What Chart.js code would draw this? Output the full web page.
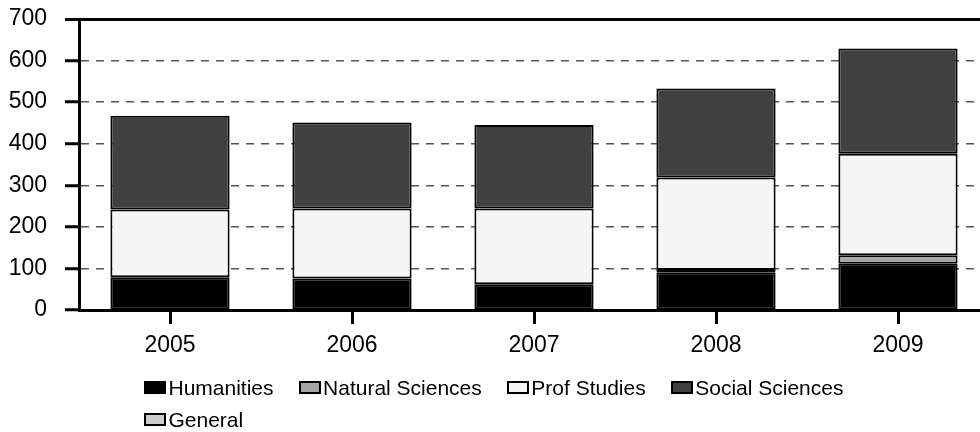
<!DOCTYPE html>
<html>
<head>
<meta charset="utf-8">
<script src="https://cdn.jsdelivr.net/npm/chart.js"></script>
<style>
  body { margin: 0; background: #fff; overflow: hidden; }
  #wrap { position: absolute; left: 0; top: 0; width: 1000px; height: 432px; }
  #legend {
    position: absolute; left: 144px; top: 372px; width: 770px;
    display: flex; flex-wrap: wrap;
    font-family: "Liberation Sans", Arial, sans-serif; font-size: 21px; color: #000;
  }
  .item { display: flex; align-items: center; height: 31.5px; line-height: 31.5px; margin-right: 25px; white-space: nowrap; }
  .box { width: 22px; height: 13px; box-sizing: border-box; border: 2px solid #000; margin-right: 2.5px; }
</style>
</head>
<body>
<div id="wrap"><canvas id="enrollChart"></canvas></div>
<div id="legend"></div>
<script>
// data
const years = ["2005", "2006", "2007", "2008", "2009"];
const seriesNames = ["Humanities", "Natural Sciences", "Prof Studies", "Social Sciences", "General"];
const humanities = [79, 76, 62, 91, 111];
const naturalSciences = [0, 0, 0, 5, 21];
const profStudies = [163, 168, 182, 223, 244];
const socialSciences = [225, 207, 201, 214, 253];
const general = [0, 0, 0, 0, 0];
const yTicks = [0, 100, 200, 300, 400, 500, 600, 700];

const fills = ["#000000", "#a6a6a6", "#f5f5f5", "#404040", "#cccccc"];
const values = [humanities, naturalSciences, profStudies, socialSciences, general];
const font = { family: "'Liberation Sans', Arial, sans-serif", size: 23 };
const yMax = yTicks[yTicks.length - 1];

const ctx = document.getElementById("enrollChart").getContext("2d");
new Chart(ctx, {
  type: "bar",
  data: {
    labels: years,
    datasets: seriesNames.map((name, i) => ({
      label: name,
      data: values[i],
      backgroundColor: fills[i],
      borderColor: "#000",
      borderWidth: 2,
      borderSkipped: false,
      barPercentage: 0.655,
      categoryPercentage: 1,
    })),
  },
  options: {
    responsive: true,
    maintainAspectRatio: false,
    animation: false,
    layout: { padding: { left: 0, top: 19, right: 11, bottom: 74 } },
    plugins: { legend: { display: false }, tooltip: { enabled: false } },
    scales: {
      x: {
        stacked: true,
        afterFit: (axis) => { axis.height = 48; },
        grid: {
          offset: false,
          drawOnChartArea: false,
          tickLength: 14,
          tickWidth: 3,
          tickColor: "#000",
        },
        border: { color: "#000", width: 3 },
        ticks: { color: "#000", font: font, padding: 8 },
      },
      y: {
        stacked: true,
        min: 0,
        max: yMax,
        afterBuildTicks: (axis) => { axis.ticks = yTicks.map((v) => ({ value: v })); },
        afterFit: (axis) => {
          axis.width = 79;
          axis.paddingTop = 0;
          axis.paddingBottom = 0;
        },
        grid: {
          color: (c) => (c.tick && c.tick.value === yMax ? "#000" : "#555"),
          lineWidth: (c) => (c.tick && c.tick.value === yMax ? 3 : 1.5),
          tickLength: 14,
          tickWidth: 3,
          tickColor: "#000",
          tickBorderDash: [],
        },
        border: {
          color: "#000",
          width: 3,
          dash: (c) => (c.tick && c.tick.value === yMax ? [] : [8, 7]),
        },
        ticks: { color: "#000", font: font, padding: 18 },
      },
    },
  },
});

// html legend, rows left aligned like the original
const legend = document.getElementById("legend");
seriesNames.forEach((name, i) => {
  const item = document.createElement("div");
  item.className = "item";
  const box = document.createElement("span");
  box.className = "box";
  box.style.background = fills[i];
  item.appendChild(box);
  item.appendChild(document.createTextNode(name));
  legend.appendChild(item);
});
</script>
</body>
</html>
